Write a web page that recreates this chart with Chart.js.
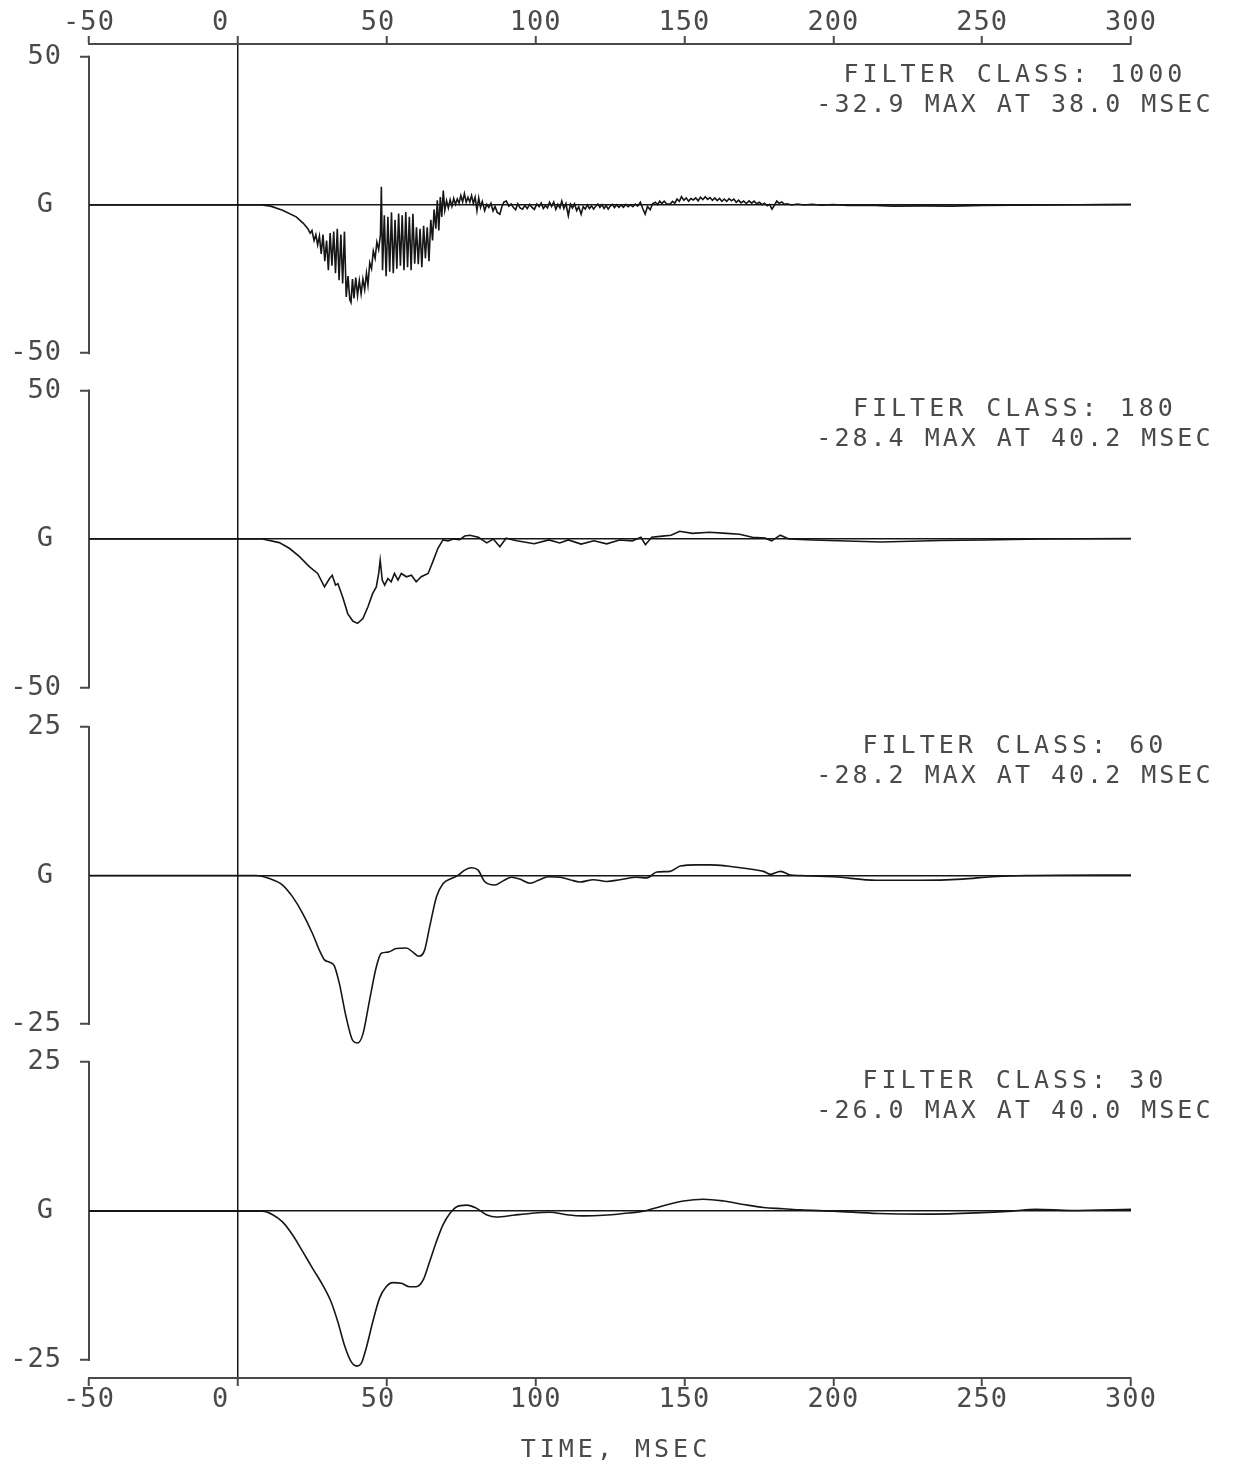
<!DOCTYPE html>
<html lang="en">
<head>
<meta charset="utf-8">
<title>Filter class comparison</title>
<script src="https://cdn.jsdelivr.net/npm/chart.js@4.4.1/dist/chart.umd.min.js"></script>
<style>
  html, body { margin: 0; padding: 0; background: #fff; }
  #contenedor { position: relative; width: 1233px; height: 1469px; }
</style>
</head>
<body>
<div id="contenedor"><canvas id="grafico"></canvas></div>
<script>
// datos: [tiempo ms, aceleracion G]
const cfc1000 = [
  [-50, 0], [8, 0], [11, -0.4], [15, -1.8], [19.6, -4.0], [22, -6.2], [23.5, -8.0], [24.3, -9.5],
  [24.9, -8.6], [25.6, -12.0], [26.2, -10.0], [26.8, -13.5], [27.4, -10.5], [28.0, -16.5], [28.6, -10.0],
  [29.2, -19.0], [29.8, -12.0], [30.4, -22.0], [31.0, -9.5], [31.6, -20.5], [32.2, -9.0], [32.8, -23.0],
  [33.4, -8.0], [34.0, -25.4], [34.6, -10.0], [35.2, -26.5], [35.8, -9.0], [36.4, -31.0], [37.0, -24.0],
  [37.6, -32.0], [38.0, -32.9], [38.5, -25.0], [39.0, -31.5], [39.6, -24.5], [40.2, -30.5], [40.8, -25.5],
  [41.4, -30.0], [42.0, -25.0], [42.6, -28.5], [43.2, -23.0], [43.7, -27.0], [44.3, -19.5], [44.9, -21.5],
  [45.5, -15.5], [46.1, -18.0], [46.7, -12.5], [47.3, -15.0], [47.9, -10.0], [48.2, 6.1], [48.6, -22.0],
  [49.2, -3.5], [49.8, -24.0], [50.4, -4.0], [51.0, -22.5], [51.6, -2.5], [52.2, -23.0], [52.8, -5.0],
  [53.4, -21.5], [54.0, -2.9], [54.6, -20.5], [55.2, -3.5], [55.8, -22.0], [56.4, -2.4], [57.0, -21.0],
  [57.6, -4.0], [58.2, -22.0], [58.8, -3.0], [59.4, -19.8], [60.0, -7.5], [60.6, -20.0], [61.2, -8.0],
  [61.8, -21.0], [62.4, -7.0], [63.0, -18.0], [63.6, -7.5], [64.2, -19.0], [64.8, -5.0], [65.4, -12.0],
  [65.9, -1.5], [66.5, -8.0], [67.0, 1.6], [67.5, -8.6], [68.0, 2.7], [68.5, -4.0], [69.0, 4.9],
  [69.5, -1.8], [70.1, 1.5], [70.7, -1.0], [71.3, 1.8], [71.9, -0.5], [72.5, 2.2], [73.1, 0.2],
  [73.7, 2.0], [74.3, 0.6], [74.9, 3.2], [75.5, 1.0], [76.1, 3.8], [76.7, 0.9], [77.3, 2.6], [77.9, 1.0],
  [78.5, 3.2], [79.1, 0.5], [79.7, 2.6], [80.3, -1.9], [80.9, 2.4], [81.5, -0.8], [82.1, 1.2], [82.9, -1.9],
  [83.6, 0.2], [84.3, -0.8], [85.0, 0.6], [85.7, -2.0], [86.4, -0.5], [87.1, -2.5], [88.0, -3.1],
  [88.7, -0.5], [89.4, 1.0], [90.2, 1.3], [91.0, -0.4], [91.8, 0.3], [92.5, -0.8], [93.3, -1.6],
  [94.0, 0.4], [94.8, -1.0], [95.6, -1.4], [96.4, -0.2], [97.2, -1.2], [98.0, 0.2], [98.8, -0.8],
  [99.6, -1.5], [100.4, 0.3], [101.2, -0.6], [101.9, 0.6], [102.6, -1.2], [103.3, -0.2], [104.0, -1.0],
  [104.7, 0.9], [105.4, -0.5], [106.1, 1.0], [106.8, -1.5], [107.5, 0.2], [108.2, -1.0], [108.8, 1.3],
  [109.5, -1.2], [110.2, 0.5], [111.0, -3.6], [111.7, 0.3], [112.4, -1.0], [113.1, 0.4], [113.8, -1.9],
  [114.5, -0.6], [115.3, -3.1], [116.0, -0.5], [116.7, -1.4], [117.4, 0.0], [118.1, -1.2], [118.8, -0.3],
  [119.5, -1.4], [120.2, -0.4], [120.9, 0.3], [121.6, -0.8], [122.3, 0.1], [123.0, -1.2], [123.7, -0.2],
  [124.4, -1.4], [125.1, -0.4], [125.8, 0.2], [126.5, -0.9], [127.2, 0.1], [128.0, -0.8], [128.8, 0.0],
  [129.5, -0.8], [130.3, 0.2], [131.1, -0.6], [131.9, 0.0], [132.7, -0.6], [133.5, 0.3], [134.3, -0.4],
  [135.2, 0.9], [136.0, -1.2], [136.8, -3.1], [137.6, -0.5], [138.5, -1.6], [139.3, 0.4], [140.2, 0.9],
  [141.0, 0.1], [141.7, 1.3], [142.4, 0.5], [143.2, 1.3], [144.0, 0.4], [145.2, 0.3], [146.0, 1.2],
  [146.8, 0.6], [147.5, 2.0], [148.3, 1.2], [149.0, 2.8], [149.8, 1.6], [150.6, 2.4], [151.4, 1.3],
  [152.2, 2.2], [153.0, 1.7], [153.8, 2.4], [154.6, 1.4], [155.4, 2.6], [156.2, 1.8], [157.0, 2.8],
  [157.8, 1.9], [158.6, 2.5], [159.4, 1.6], [160.2, 2.4], [161.0, 1.5], [161.8, 2.2], [162.6, 1.2],
  [163.4, 2.0], [164.2, 1.2], [165.0, 2.1], [165.8, 1.4], [166.6, 2.0], [167.4, 0.9], [168.2, 1.6],
  [169.0, 0.7], [169.9, 1.3], [170.8, 0.5], [171.7, 1.4], [172.6, 0.6], [173.4, 1.3], [174.3, 0.4],
  [175.2, 0.9], [176.1, 0.1], [176.9, 0.6], [177.8, -0.3], [178.6, 0.2], [179.4, -1.4], [180.3, 0.0],
  [181.0, 1.3], [181.8, 0.6], [182.7, 1.0], [183.6, 0.2], [184.5, 0.4], [186, 0.0], [188, 0.3], [190, 0.0],
  [193, 0.2], [196, -0.1], [200, 0.1], [205, -0.2], [212, -0.1], [220, -0.4], [230, -0.3], [240, -0.4],
  [250, -0.2], [260, -0.1], [275, 0], [290, 0.1], [300, 0.2]
];
const cfc180 = [
  [-50, 0], [8.3, 0], [13.9, -1.2], [17.3, -3.1], [20.7, -5.9], [24.0, -9.3], [26.8, -11.6], [29.1, -16.1],
  [30.8, -13.3], [31.7, -12.2], [32.8, -15.5], [33.6, -15.0], [35.2, -19.5], [36.9, -25.1], [38.6, -27.6],
  [40.2, -28.4], [42.0, -26.8], [43.7, -22.8], [45.3, -18.3], [46.5, -16.1], [47.3, -11.6], [47.8, -7.1],
  [48.5, -13.8], [49.3, -15.5], [50.4, -13.3], [51.5, -14.4], [52.6, -11.6], [53.8, -13.8], [54.9, -11.6],
  [56.6, -12.7], [58.3, -12.2], [59.9, -14.4], [61.6, -12.7], [63.9, -11.6], [65.5, -7.6], [67.2, -3.1],
  [68.9, -0.3], [70.6, -0.6], [72.3, 0], [74.5, -0.2], [76.2, 1.0], [77.9, 1.3], [80.8, 0.6], [83.6, -1.3],
  [85.8, 0], [88.0, -2.6], [90.1, 0.3], [93.7, -0.6], [99.5, -1.6], [104.5, -0.3], [108.1, -1.3],
  [111.0, -0.3], [115.3, -1.7], [119.6, -0.6], [123.9, -1.6], [128.2, -0.3], [132.5, -0.6], [135.4, 0.6],
  [136.9, -1.9], [139.0, 0.6], [142.6, 1.0], [145.5, 1.3], [148.4, 2.6], [152.7, 1.9], [158.4, 2.3],
  [164.2, 1.9], [168.5, 1.6], [172.8, 0.6], [177.1, 0.3], [179.3, -0.6], [182.2, 1.3], [185.1, 0],
  [193.0, -0.3], [216.0, -1.0], [236.1, -0.5], [250.5, -0.3], [270, 0], [300, 0.2]
];
const cfc60 = [
  [-50, 0], [6.1, 0], [10.6, -0.5], [15.0, -1.6], [18.4, -3.6], [21.8, -6.4], [25.1, -9.8], [27.4, -12.6],
  [29.1, -14.2], [30.8, -14.6], [32.4, -15.2], [34.1, -18.2], [36.4, -23.9], [38.6, -27.8], [40.2, -28.2],
  [42.0, -26.7], [44.2, -21.1], [46.5, -15.4], [48.2, -13.1], [50.4, -12.9], [53.2, -12.3], [56.6, -12.2],
  [58.8, -12.9], [60.8, -13.6], [62.7, -12.6], [64.4, -8.7], [66.7, -3.6], [68.9, -1.4], [71.7, -0.5],
  [73.9, 0], [76.2, 0.9], [78.5, 1.3], [80.7, 0.9], [82.9, -1.0], [86.3, -1.6], [89.1, -0.9], [91.9, -0.3],
  [94.7, -0.6], [98.1, -1.3], [101.4, -0.7], [104.2, -0.2], [108.2, -0.3], [111.5, -0.7], [114.9, -1.1],
  [119.4, -0.7], [123.9, -1.0], [128.4, -0.7], [134.0, -0.3], [137.4, -0.4], [140.7, 0.6], [145.2, 0.7],
  [148.6, 1.6], [154.2, 1.8], [158.7, 1.8], [164.3, 1.6], [168.8, 1.3], [173.2, 1.0], [176.6, 0.7],
  [178.9, 0.2], [182.3, 0.7], [185.6, 0.1], [189.0, 0], [200.1, -0.2], [214.5, -0.8], [228.9, -0.8],
  [243.3, -0.6], [253.4, -0.2], [264.9, 0], [300, 0.1]
];
const cfc30 = [
  [-50, 0], [8.3, 0], [11.7, -0.6], [15.0, -1.8], [18.4, -4.0], [21.8, -6.8], [25.1, -9.6], [28.5, -12.4],
  [31.3, -15.2], [33.6, -18.6], [35.8, -22.5], [38.1, -25.3], [40.0, -26.0], [41.4, -25.6], [43.1, -23.0],
  [45.3, -18.6], [47.6, -14.6], [49.8, -12.7], [52.1, -12.0], [54.9, -12.1], [57.7, -12.7], [59.9, -12.7],
  [62.2, -11.6], [64.4, -8.5], [66.7, -5.1], [68.9, -2.3], [71.2, -0.4], [73.4, 0.7], [76.8, 1.0],
  [80.1, 0.5], [83.5, -0.6], [86.9, -1.0], [92.5, -0.7], [98.1, -0.4], [104.8, -0.2], [110.4, -0.6],
  [116.0, -0.8], [122.8, -0.7], [129.5, -0.4], [136.2, 0], [142.9, 0.9], [149.7, 1.7], [156.4, 2.0],
  [163.1, 1.7], [169.9, 1.1], [176.6, 0.6], [183.3, 0.4], [189.0, 0.2], [200, 0], [215, -0.4],
  [232, -0.5], [248, -0.3], [260, 0], [268, 0.3], [280, 0.1], [300, 0.3]
];

// textos de cada panel
const clasesFiltro = ["1000", "180", "60", "30"];
const picos = ["-32.9", "-28.4", "-28.2", "-26.0"];
const tiemposPico = ["38.0", "40.2", "40.2", "40.0"];
const limitesEje = [50, 50, 25, 25];
const ticksTiempo = [-50, 0, 50, 100, 150, 200, 250, 300];
const tituloX = "TIME, MSEC";
const etiquetaCero = "G";

// rangos de cada eje apilado (incluye el hueco entre paneles)
const rangosY = [[-58.2, 54.3], [-57.9, 54.4], [-28.45, 27.7], [-28.0, 27.95]];

const gris = "#4a4a4a";
const negro = "#161616";
const fuenteTicks = { family: "'DejaVu Sans Mono', monospace", size: 27, lineHeight: 1 };
const fuenteTexto = "25px 'DejaVu Sans Mono', monospace";
const transparente = "rgba(0,0,0,0)";

function ejeY(i) {
  const lim = limitesEje[i];
  return {
    type: "linear",
    position: "left",
    stack: "paneles",
    stackWeight: 1,
    weight: 4 - i,
    min: rangosY[i][0],
    max: rangosY[i][1],
    afterBuildTicks: s => { s.ticks = [-lim, 0, lim].map(v => ({ value: v })); },
    afterFit: s => { s.width = 89; },
    border: { display: false },
    grid: {
      color: c => (c.tick && c.tick.value === 0 ? negro : transparente),
      lineWidth: 1.5,
      drawTicks: true,
      tickLength: 9,
      tickWidth: 2,
      tickColor: c => (c.tick && c.tick.value === 0 ? transparente : gris)
    },
    ticks: {
      padding: 18,
      color: gris,
      font: fuenteTicks,
      // la "G" del cero se dibuja aparte, un poco mas a la izquierda
      callback: v => (v === 0 ? "" : String(v))
    }
  };
}

function ejeX(posicion) {
  const abajo = posicion === "bottom";
  return {
    type: "linear",
    position: posicion,
    min: -50,
    max: 300,
    afterBuildTicks: s => { s.ticks = ticksTiempo.map(v => ({ value: v })); },
    afterFit: s => { s.height = abajo ? 91 : 44; },
    border: { display: true, color: gris, width: 2 },
    grid: {
      drawOnChartArea: abajo,
      color: c => (c.tick && c.tick.value === 0 ? negro : transparente),
      lineWidth: 1.5,
      tickLength: 8,
      tickWidth: 2,
      tickColor: gris
    },
    ticks: {
      padding: 0,
      color: gris,
      font: fuenteTicks,
      maxRotation: 0,
      autoSkip: false,
      callback: v => String(v).padEnd(3, " ")
    }
  };
}

// lineas de eje de cada panel y textos
const marcoPlugin = {
  id: "marco",
  beforeDraw(chart) {
    chart.ctx.letterSpacing = "1px";
  },
  beforeDatasetsDraw(chart) {
    const ctx = chart.ctx;
    const izq = chart.chartArea.left;
    ctx.save();
    ctx.strokeStyle = gris;
    ctx.lineWidth = 2;
    limitesEje.forEach((lim, i) => {
      const s = chart.scales["y" + (i + 1)];
      ctx.beginPath();
      ctx.moveTo(izq, s.getPixelForValue(lim) - 1);
      ctx.lineTo(izq, s.getPixelForValue(-lim) + 1);
      ctx.stroke();
    });
    ctx.restore();
  },
  afterDraw(chart) {
    const ctx = chart.ctx;
    const xs = chart.scales.x;
    ctx.save();
    ctx.fillStyle = gris;
    ctx.textBaseline = "middle";

    // "G" en el cero de cada panel
    ctx.font = "27px 'DejaVu Sans Mono', monospace";
    ctx.letterSpacing = "1px";
    ctx.textAlign = "right";
    limitesEje.forEach((lim, i) => {
      const s = chart.scales["y" + (i + 1)];
      ctx.fillText(etiquetaCero, 54, s.getPixelForValue(0));
    });

    ctx.font = fuenteTexto;
    ctx.textAlign = "center";
    const xTexto = xs.getPixelForValue(261);
    limitesEje.forEach((lim, i) => {
      const s = chart.scales["y" + (i + 1)];
      const yTop = s.getPixelForValue(lim);
      ctx.letterSpacing = "4px";
      ctx.fillText("FILTER CLASS: " + clasesFiltro[i], xTexto, yTop + 19);
      ctx.letterSpacing = "3px";
      ctx.fillText(picos[i] + " MAX AT " + tiemposPico[i] + " MSEC", xTexto, yTop + 49);
    });
    ctx.letterSpacing = "4px";
    ctx.fillText(tituloX, xs.getPixelForValue(127), chart.height - 19);
    ctx.restore();
  }
};

const series = [cfc1000, cfc180, cfc60, cfc30];

const escalas = { x: ejeX("bottom"), x2: ejeX("top") };
limitesEje.forEach((_, i) => { escalas["y" + (i + 1)] = ejeY(i); });

const grafico = new Chart(document.getElementById("grafico"), {
  type: "line",
  data: {
    datasets: series.map((s, i) => ({
      label: "CFC " + clasesFiltro[i],
      data: s.map(([t, g]) => ({ x: t, y: g })),
      xAxisID: "x",
      yAxisID: "y" + (i + 1),
      borderColor: negro,
      borderWidth: 1.6,
      pointRadius: 0,
      fill: false,
      tension: i >= 2 ? 0.4 : 0,
      cubicInterpolationMode: i >= 2 ? "monotone" : "default"
    }))
  },
  options: {
    responsive: true,
    maintainAspectRatio: false,
    animation: false,
    devicePixelRatio: 1,
    layout: { padding: { left: 0, right: 102, top: 0, bottom: 0 } },
    scales: escalas,
    plugins: {
      legend: { display: false },
      tooltip: { enabled: false }
    }
  },
  plugins: [marcoPlugin]
});
</script>
</body>
</html>
